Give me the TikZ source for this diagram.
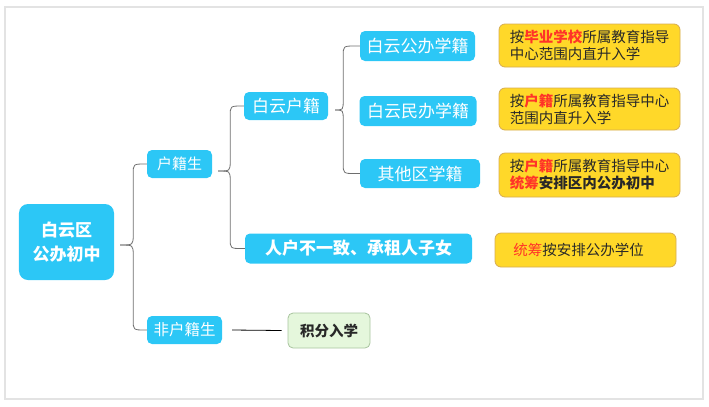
\documentclass[tikz,border=0pt]{standalone}
\usepackage{fontspec}
\setmainfont{Noto Sans CJK SC}
\usetikzlibrary{calc}
\definecolor{cyanbox}{RGB}{44,199,246}
\definecolor{yelbox}{RGB}{255,216,41}
\definecolor{yelline}{RGB}{214,172,82}
\definecolor{grnbox}{RGB}{229,247,220}
\definecolor{grnline}{RGB}{168,196,158}
\definecolor{redtxt}{RGB}{255,52,40}
\definecolor{darktxt}{RGB}{40,40,40}
\definecolor{bracecol}{RGB}{110,110,110}
\newcommand{\rd}[1]{{\bfseries\color{redtxt}#1}}
\tikzset{
  bluebox/.style={fill=cyanbox, text=white, rounded corners=5bp, inner sep=0pt,
    font=\fontsize{17bp}{20bp}\selectfont},
  yelnode/.style={fill=yelbox, draw=yelline, line width=0.8bp, rounded corners=6bp,
    text=darktxt, inner sep=0pt, align=left, minimum width=181bp,
    font=\fontsize{14.5bp}{17bp}\selectfont},
  brace/.style={draw=bracecol, line width=0.8bp},
}
\begin{document}
\begin{tikzpicture}[x=1bp,y=-1bp]
\useasboundingbox (0,0) rectangle (709,406);
\draw[gray!22, line width=1.2bp] (5,7) rectangle (703,399);

% blue nodes
\node[bluebox, rounded corners=9bp, minimum width=95bp, minimum height=76bp, align=center,
  font=\bfseries\fontsize{17bp}{24bp}\selectfont] (root) at (66.5,242) {白云区\\公办初中};
\node[bluebox, minimum width=65bp, minimum height=28bp, font=\fontsize{15bp}{18bp}\selectfont] (hj) at (179.5,164) {户籍生};
\node[bluebox, minimum width=75bp, minimum height=28bp, font=\fontsize{15.5bp}{18bp}\selectfont] (fhj) at (184.5,330) {非户籍生};
\node[bluebox, minimum width=84bp, minimum height=28bp] (by) at (286,106) {白云户籍};
\node[bluebox, minimum width=227bp, minimum height=30bp, font=\bfseries\fontsize{17bp}{20bp}\selectfont] (rh) at (358.5,248.5) {人户不一致、承租人子女};
\node[bluebox, minimum width=115bp, minimum height=30bp] (gb) at (417.5,46) {白云公办学籍};
\node[bluebox, minimum width=117bp, minimum height=30bp] (mb) at (418,111) {白云民办学籍};
\node[bluebox, minimum width=120bp, minimum height=29bp] (qt) at (420,173.5) {其他区学籍};

% green node
\node[fill=grnbox, draw=grnline, line width=0.8bp, rounded corners=5bp, minimum width=82bp,
  minimum height=35bp, inner sep=0pt, text=darktxt, font=\bfseries\fontsize{14.5bp}{17bp}\selectfont]
  (jf) at (329,330.5) {积分入学};

% yellow nodes
\node[yelnode, minimum height=43bp] (y1) at (589.5,45.5) {按\rd{毕业学校}所属教育指导\\中心范围内直升入学};
\node[yelnode, minimum height=42bp] (y2) at (589.5,109) {按\rd{户籍}所属教育指导中心\\范围内直升入学};
\node[yelnode, minimum height=44bp] (y3) at (589.5,175) {按\rd{户籍}所属教育指导中心\\\rd{统筹}\textbf{安排区内公办初中}};
\node[yelnode, minimum height=34bp] (y4) at (585.5,250) {{\color{redtxt}统筹}按安排公办学位\hspace{14bp}};

% braces
\coordinate (cA) at ($(root.east)+(6,3)$);
\coordinate (vA) at ($(root.east)+(19,0)$);
\draw[brace] (cA) .. controls (vA |- cA) .. ($(vA |- cA)+(0,-10)$)
  -- ($(vA |- hj.west)+(0,10)$) .. controls (vA |- hj.west) .. ($(vA |- hj.west)+(12,0)$) -- (hj.west);
\draw[brace] (cA) .. controls (vA |- cA) .. ($(vA |- cA)+(0,10)$)
  -- ($(vA |- fhj.west)+(0,-10)$) .. controls (vA |- fhj.west) .. ($(vA |- fhj.west)+(12,0)$) -- (fhj.west);

\coordinate (cB) at ($(hj.east)+(6,7)$);
\coordinate (vB) at ($(hj.east)+(18,0)$);
\draw[brace] (cB) .. controls (vB |- cB) .. ($(vB |- cB)+(0,-10)$)
  -- ($(vB |- by.west)+(0,10)$) .. controls (vB |- by.west) .. ($(vB |- by.west)+(12,0)$) -- (by.west);
\draw[brace] (cB) .. controls (vB |- cB) .. ($(vB |- cB)+(0,10)$)
  -- ($(vB |- rh.west)+(0,-10)$) .. controls (vB |- rh.west) .. ($(vB |- rh.west)+(12,0)$) -- (rh.west);

\coordinate (cC) at ($(by.east)+(7,4)$);
\coordinate (vC) at ($(by.east)+(15,0)$);
\draw[brace] (cC) .. controls (vC |- cC) .. ($(vC |- cC)+(0,-10)$)
  -- ($(vC |- gb.west)+(0,10)$) .. controls (vC |- gb.west) .. ($(vC |- gb.west)+(12,0)$) -- (gb.west);
\draw[brace] (cC) .. controls (vC |- cC) .. ($(vC |- cC)+(0,10)$)
  -- ($(vC |- qt.west)+(0,-10)$) .. controls (vC |- qt.west) .. ($(vC |- qt.west)+(12,0)$) -- (qt.west);

% plain line
\draw[line width=0.8bp, black] ($(fhj.east)+(10,0)$) -- ($(jf.west)+(-6,0)$);
\end{tikzpicture}
\end{document}
